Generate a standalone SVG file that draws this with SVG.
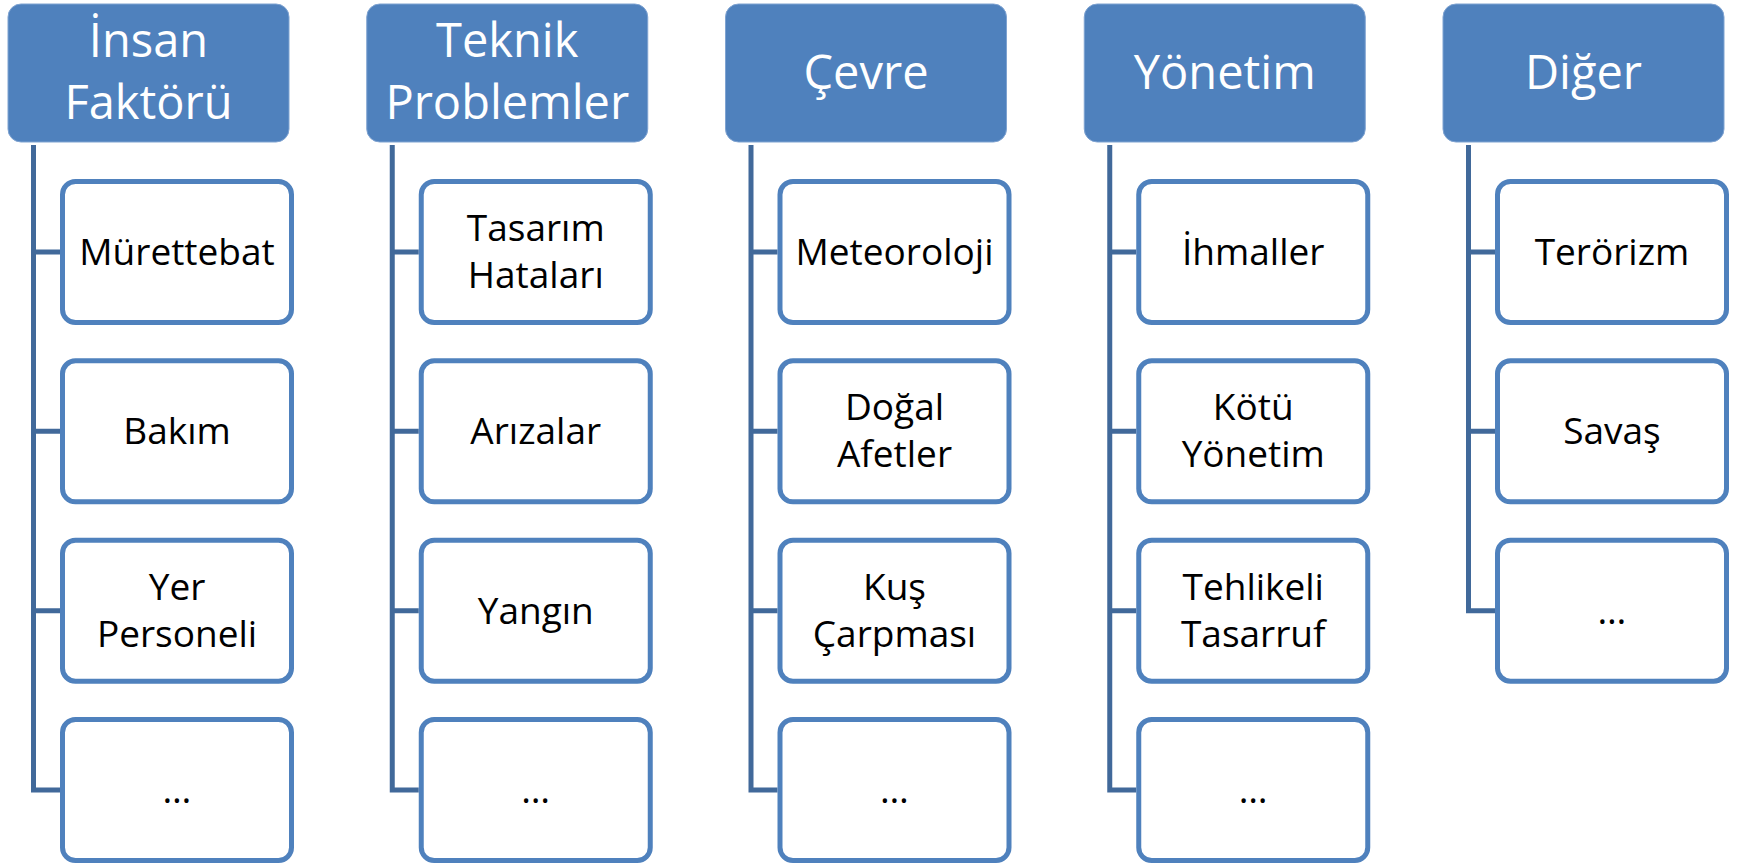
<svg xmlns="http://www.w3.org/2000/svg" width="1739" height="864" viewBox="0 0 1739 864">
<style>
.hdr{fill:#4F81BD;stroke:#7FA3D1;stroke-width:1}
.box{fill:#FFFFFF;stroke:#4F81BD;stroke-width:5}
.ht{font-family:"Open Sans","Liberation Sans",sans-serif;font-size:47px;fill:#FFFFFF;text-anchor:middle}
.bt{font-family:"Open Sans","Liberation Sans",sans-serif;font-size:37px;fill:#000000;text-anchor:middle}
.con{fill:none;stroke:#41699A;stroke-width:5;stroke-linejoin:miter;stroke-linecap:butt}
</style>
<rect width="1739" height="864" fill="#FFFFFF"/>
<g id="connectors">
<path class="con" d="M33.5 145 V790 H60 M33.5 252 H60 M33.5 431.3 H60 M33.5 610.7 H60"/>
<path class="con" d="M392.25 145 V790 H418.75 M392.25 252 H418.75 M392.25 431.3 H418.75 M392.25 610.7 H418.75"/>
<path class="con" d="M751 145 V790 H777.5 M751 252 H777.5 M751 431.3 H777.5 M751 610.7 H777.5"/>
<path class="con" d="M1109.75 145 V790 H1136.25 M1109.75 252 H1136.25 M1109.75 431.3 H1136.25 M1109.75 610.7 H1136.25"/>
<path class="con" d="M1468.5 145 V610.7 H1495 M1468.5 252 H1495 M1468.5 431.3 H1495"/>
</g>
<g id="col1" transform="translate(0,0)">
<g id="h1"><rect class="hdr" x="8" y="4" width="281" height="138" rx="13"/><text class="ht" x="148.5" y="57">İnsan</text><text class="ht" x="148.5" y="119">Faktörü</text></g>
<g id="c1a"><rect class="box" x="62.5" y="181.5" width="229" height="141" rx="13"/><text class="bt" x="177" y="265">Mürettebat</text></g>
<g id="c1b"><rect class="box" x="62.5" y="360.8" width="229" height="141" rx="13"/><text class="bt" x="177" y="444.3">Bakım</text></g>
<g id="c1c"><rect class="box" x="62.5" y="540.2" width="229" height="141" rx="13"/><text class="bt" x="177" y="600">Yer</text><text class="bt" x="177" y="647">Personeli</text></g>
<g id="c1d"><rect class="box" x="62.5" y="719.5" width="229" height="141" rx="13"/><text class="bt" x="177" y="803">…</text></g>
</g>
<g id="col2" transform="translate(358.75,0)">
<g id="h2"><rect class="hdr" x="8" y="4" width="281" height="138" rx="13"/><text class="ht" x="148.5" y="57">Teknik</text><text class="ht" x="148.5" y="119">Problemler</text></g>
<g id="c2a"><rect class="box" x="62.5" y="181.5" width="229" height="141" rx="13"/><text class="bt" x="177" y="241">Tasarım</text><text class="bt" x="177" y="288">Hataları</text></g>
<g id="c2b"><rect class="box" x="62.5" y="360.8" width="229" height="141" rx="13"/><text class="bt" x="177" y="444.3">Arızalar</text></g>
<g id="c2c"><rect class="box" x="62.5" y="540.2" width="229" height="141" rx="13"/><text class="bt" x="177" y="623.7">Yangın</text></g>
<g id="c2d"><rect class="box" x="62.5" y="719.5" width="229" height="141" rx="13"/><text class="bt" x="177" y="803">…</text></g>
</g>
<g id="col3" transform="translate(717.5,0)">
<g id="h3"><rect class="hdr" x="8" y="4" width="281" height="138" rx="13"/><text class="ht" x="148.5" y="89">Çevre</text></g>
<g id="c3a"><rect class="box" x="62.5" y="181.5" width="229" height="141" rx="13"/><text class="bt" x="177" y="265">Meteoroloji</text></g>
<g id="c3b"><rect class="box" x="62.5" y="360.8" width="229" height="141" rx="13"/><text class="bt" x="177" y="420.3">Doğal</text><text class="bt" x="177" y="467.3">Afetler</text></g>
<g id="c3c"><rect class="box" x="62.5" y="540.2" width="229" height="141" rx="13"/><text class="bt" x="177" y="600">Kuş</text><text class="bt" x="177" y="647">Çarpması</text></g>
<g id="c3d"><rect class="box" x="62.5" y="719.5" width="229" height="141" rx="13"/><text class="bt" x="177" y="803">…</text></g>
</g>
<g id="col4" transform="translate(1076.25,0)">
<g id="h4"><rect class="hdr" x="8" y="4" width="281" height="138" rx="13"/><text class="ht" x="148.5" y="89">Yönetim</text></g>
<g id="c4a"><rect class="box" x="62.5" y="181.5" width="229" height="141" rx="13"/><text class="bt" x="177" y="265">İhmaller</text></g>
<g id="c4b"><rect class="box" x="62.5" y="360.8" width="229" height="141" rx="13"/><text class="bt" x="177" y="420.3">Kötü</text><text class="bt" x="177" y="467.3">Yönetim</text></g>
<g id="c4c"><rect class="box" x="62.5" y="540.2" width="229" height="141" rx="13"/><text class="bt" x="177" y="600">Tehlikeli</text><text class="bt" x="177" y="647">Tasarruf</text></g>
<g id="c4d"><rect class="box" x="62.5" y="719.5" width="229" height="141" rx="13"/><text class="bt" x="177" y="803">…</text></g>
</g>
<g id="col5" transform="translate(1435,0)">
<g id="h5"><rect class="hdr" x="8" y="4" width="281" height="138" rx="13"/><text class="ht" x="148.5" y="89">Diğer</text></g>
<g id="c5a"><rect class="box" x="62.5" y="181.5" width="229" height="141" rx="13"/><text class="bt" x="177" y="265">Terörizm</text></g>
<g id="c5b"><rect class="box" x="62.5" y="360.8" width="229" height="141" rx="13"/><text class="bt" x="177" y="444.3">Savaş</text></g>
<g id="c5c"><rect class="box" x="62.5" y="540.2" width="229" height="141" rx="13"/><text class="bt" x="177" y="623.7">…</text></g>
</g>
</svg>
